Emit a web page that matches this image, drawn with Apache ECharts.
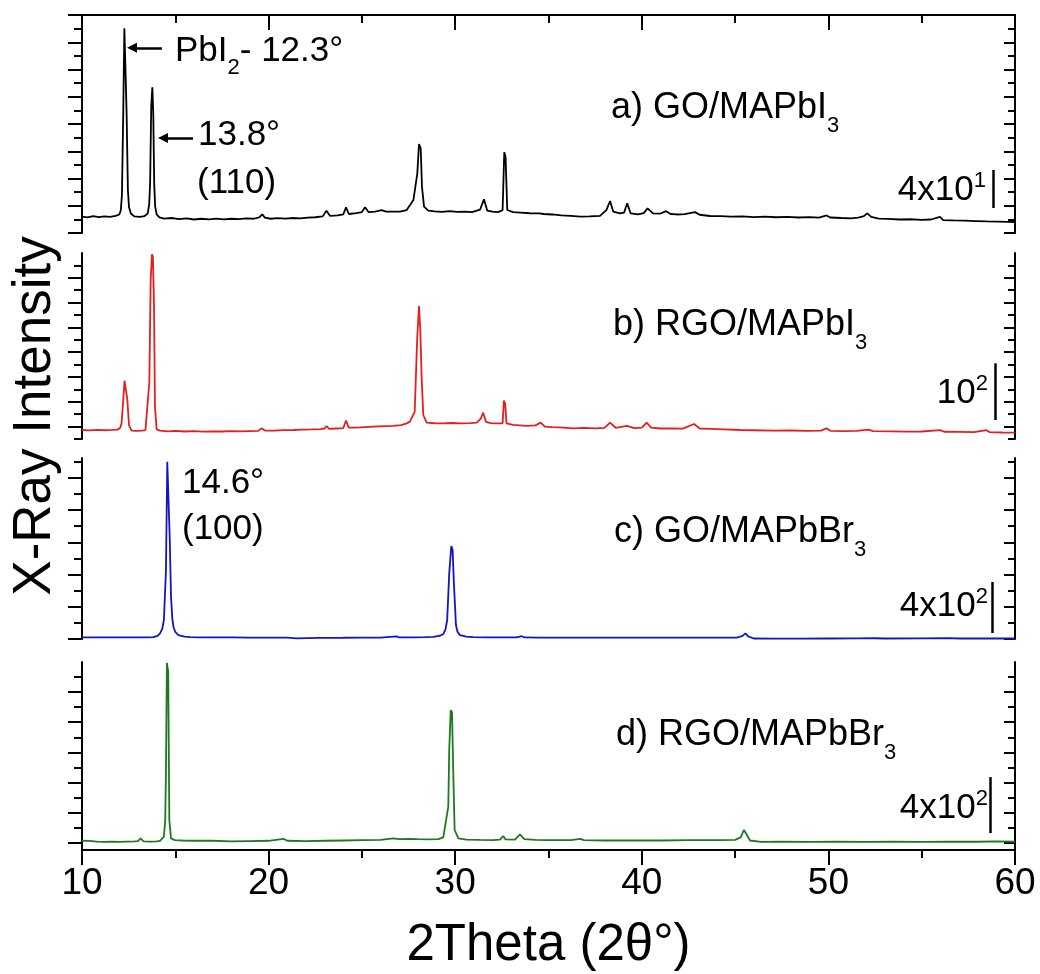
<!DOCTYPE html>
<html>
<head>
<meta charset="utf-8">
<script src="https://cdn.jsdelivr.net/npm/echarts@6/dist/echarts.min.js"></script>
<style>
  html, body { margin: 0; padding: 0; background: #fff; }
  #chart { width: 1040px; height: 974px; }
</style>
</head>
<body>
<div id="chart"></div>
<script>
// XRD patterns, 2θ (degrees) vs. counts, one stacked panel per film
const patternGO_MAPbI3 = [
  [10.0, 17.2], [10.3, 16.5], [10.6, 17.8], [10.9, 16.8], [11.2, 17.5], [11.5, 16.9], [11.8, 18.0],
  [12.0, 19.5], [12.08, 24], [12.14, 40], [12.21, 126], [12.27, 215.5], [12.31, 214], [12.34, 165], [12.39, 126],
  [12.46, 45], [12.52, 27], [12.62, 20.5], [12.8, 17.5], [13.1, 17.0], [13.35, 17.8], [13.52, 20.5], [13.6, 30], [13.65, 52],
  [13.71, 133], [13.77, 153.4], [13.82, 125], [13.87, 52], [13.92, 28], [14.0, 19.5], [14.15, 16.5], [14.4, 15.2],
  [14.8, 15.8], [15.2, 14.6], [15.6, 15.3], [16.0, 14.2], [16.4, 15.0], [16.8, 14.4], [17.2, 15.1],
  [17.6, 14.3], [18.0, 15.0], [18.4, 14.6], [18.8, 15.4], [19.2, 15.0], [19.5, 16.5], [19.66, 19.7],
  [19.8, 16.2], [20.1, 15.0], [20.5, 15.6], [20.9, 15.1], [21.3, 15.8], [21.7, 15.4], [22.1, 16.2],
  [22.5, 16.6], [22.9, 17.5], [23.1, 23.5], [23.3, 18.0], [23.7, 18.6], [24.0, 19.5], [24.15, 27],
  [24.3, 20], [24.7, 21], [25.0, 22], [25.17, 27], [25.35, 22], [25.7, 22.5], [26.06, 24], [26.3, 22.4],
  [26.67, 22.4], [27.04, 22.4], [27.4, 24.2], [27.76, 34.7], [27.97, 62.8], [28.06, 93.7], [28.15, 89.5],
  [28.22, 48.7], [28.33, 27.7], [28.56, 23.5], [28.9, 22.8], [29.3, 22.3], [29.7, 23.0], [30.1, 22.2],
  [30.5, 22.6], [30.9, 22.0], [31.33, 24.5], [31.54, 35.5], [31.72, 23.5], [32.0, 22.5], [32.3, 22.0],
  [32.54, 24], [32.63, 85], [32.70, 80], [32.79, 24.2], [33.1, 22], [33.5, 21.5], [34.0, 20.8],
  [34.5, 20.7], [34.6, 22.5], [34.75, 20], [35.2, 19.5], [35.7, 18.6], [36.2, 18.0], [36.7, 17.2],
  [37.2, 17.5], [37.76, 18], [38.1, 24], [38.3, 33.7], [38.47, 22.4], [38.83, 20.7], [39.05, 21.5],
  [39.22, 31.2], [39.4, 20.7], [39.8, 19.5], [40.1, 21], [40.31, 26], [40.6, 20.7], [41.0, 20.5],
  [41.3, 23], [41.55, 20], [41.87, 19.5], [42.3, 19.8], [42.85, 22], [43.1, 19.2], [43.65, 17.9],
  [44.2, 17.8], [44.8, 17.2], [45.4, 17.6], [46.0, 16.8], [46.6, 17.2], [47.2, 16.6], [47.8, 16.9],
  [48.4, 16.3], [49.0, 16.7], [49.5, 16.2], [49.9, 18.5], [50.1, 16.3], [50.7, 15.8], [51.2, 15.5],
  [51.6, 16.2], [51.9, 17.8], [52.08, 20.7], [52.3, 17.0], [52.7, 15.2], [53.2, 14.8], [53.8, 14.2],
  [54.4, 14.5], [55.0, 13.8], [55.5, 14.2], [55.98, 17], [56.15, 13.6], [56.7, 13.3], [57.3, 13.0],
  [57.9, 12.6], [58.5, 12.2], [59.1, 12.0], [59.6, 11.8], [60.0, 11.6]
];

const patternRGO_MAPbI3 = [
  [10.0, 15.9], [10.4, 15.2], [10.8, 16.2], [11.2, 15.4], [11.6, 16.0], [11.9, 16.5], [12.05, 20],
  [12.12, 27.6], [12.21, 68.8], [12.28, 102.8], [12.37, 101], [12.43, 68.8], [12.52, 24], [12.66, 14.7],
  [12.9, 14.2], [13.2, 14.8], [13.4, 15.5], [13.5, 19], [13.61, 101], [13.68, 280], [13.75, 325.7],
  [13.8, 321], [13.86, 236], [13.91, 57], [14.0, 17], [14.18, 14.7], [14.6, 13.5], [15.0, 14.2],
  [15.5, 13.2], [16.0, 13.8], [16.5, 13.0], [17.0, 13.6], [17.5, 13.2], [18.0, 13.9], [18.5, 13.4],
  [19.0, 14.0], [19.45, 14.5], [19.62, 18.8], [19.8, 14.8], [20.3, 14.6], [20.8, 15.5], [21.32, 15.9],
  [21.8, 16.4], [22.3, 16.9], [22.8, 17.5], [23.0, 18.5], [23.1, 22.9], [23.25, 18.0], [23.6, 18.5],
  [24.0, 19], [24.15, 32.3], [24.3, 20], [24.6, 20.2], [24.9, 20.6], [25.4, 21.5], [25.9, 22.2],
  [26.3, 22.8], [26.68, 23], [27.1, 24.5], [27.4, 27.5], [27.57, 30.6], [27.83, 48], [27.96, 174.6],
  [28.06, 234.6], [28.13, 192], [28.2, 110], [28.29, 42.3], [28.47, 28.8], [28.9, 27.8], [29.36, 27.6],
  [29.8, 28.2], [30.3, 27.4], [30.8, 28.0], [31.15, 28.8], [31.37, 36], [31.5, 46.4], [31.65, 30],
  [31.9, 28], [32.2, 27.4], [32.54, 27.6], [32.61, 67.6], [32.68, 62], [32.75, 27.6], [33.1, 25],
  [33.8, 23], [34.3, 24], [34.58, 28.8], [34.8, 22], [35.2, 21], [35.6, 20.6], [36.33, 18.8],
  [36.9, 19.5], [37.5, 18.8], [38.0, 19.6], [38.3, 28.8], [38.6, 19.8], [39.2, 23], [39.6, 19],
  [40.0, 20], [40.26, 28.8], [40.5, 20], [41.0, 18.5], [41.6, 18.8], [42.2, 18.2], [42.8, 26.4],
  [43.1, 18.5], [43.7, 17.8], [44.4, 17.0], [45.26, 15.9], [46.0, 15.4], [47.05, 14.6], [48.0, 15.0],
  [48.9, 14.4], [49.6, 14.8], [49.9, 18.8], [50.1, 14.4], [50.8, 14.0], [51.5, 14.2], [52.14, 16.5],
  [52.4, 13.8], [53.3, 13.5], [54.2, 12.9], [55.0, 13.2], [55.98, 15.6], [56.2, 12.8], [57.0, 12.5],
  [57.8, 12.2], [58.48, 15.5], [58.65, 12], [59.3, 11.5], [60.0, 11.2]
];

const patternGO_MAPbBr3 = [
  [10.0, 13], [10.5, 12], [11.0, 13.5], [11.5, 12.5], [12.0, 13.2], [12.5, 12.2], [13.0, 13], [13.1, 22],
  [13.2, 12.5], [13.6, 13.5], [13.82, 15], [14.05, 24], [14.18, 44], [14.3, 80], [14.39, 149], [14.5, 541], [14.57, 1391],
  [14.64, 1380], [14.7, 802], [14.77, 332], [14.84, 160], [14.9, 96.5], [15.0, 55], [15.16, 31], [15.5, 18], [15.79, 14],
  [16.3, 12.5], [17.0, 13], [18.0, 12.5], [19.0, 11.5], [20.0, 11], [21.0, 10.5], [21.5, 5], [21.6, 10],
  [22.7, 8.5], [22.8, 3], [23.0, 9.5], [24.0, 10], [25.0, 11], [26.0, 11.5], [26.86, 20], [27.0, 12],
  [27.8, 13], [28.4, 14], [28.83, 16], [29.2, 26], [29.36, 39], [29.48, 75], [29.57, 149], [29.68, 515], [29.79, 729],
  [29.86, 700], [29.93, 437], [30.04, 110], [30.12, 58], [30.25, 31], [30.6, 18], [30.97, 14], [31.6, 13],
  [32.4, 12.5], [33.3, 12.8], [33.56, 22], [33.7, 12], [34.5, 11.5], [35.6, 11], [36.8, 10.5],
  [38.0, 10.2], [39.5, 10.6], [41.0, 10.2], [42.5, 10.8], [44.0, 10.5], [45.1, 11.5], [45.4, 25],
  [45.55, 44], [45.7, 20], [46.0, 4], [47.0, 3], [48.5, 3.5], [50.0, 4], [51.5, 4.5], [52.5, 6],
  [53.0, 4], [55.0, 4.5], [56.5, 7], [57.0, 4], [58.5, 4], [60.0, 4]
];

const patternRGO_MAPbBr3 = [
  [10.0, 66], [10.4, 65], [10.8, 60], [11.2, 58], [11.6, 60], [12.0, 58], [12.4, 60], [12.8, 62],
  [13.0, 64], [13.14, 83], [13.3, 62], [13.7, 60], [14.0, 62], [14.18, 66], [14.39, 95], [14.46, 214],
  [14.5, 559], [14.55, 1338], [14.62, 1274], [14.68, 214], [14.77, 83], [14.98, 71], [15.4, 68],
  [16.0, 66], [17.0, 66], [18.0, 62], [19.0, 64], [20.0, 66], [20.8, 80], [21.0, 66], [22.0, 64],
  [23.0, 66], [24.0, 68], [25.0, 70], [26.0, 72], [26.68, 83], [27.0, 78], [27.5, 80], [28.0, 78],
  [28.6, 76], [29.1, 78], [29.36, 90], [29.63, 310], [29.68, 714], [29.76, 1000], [29.83, 985],
  [29.9, 536], [29.97, 143], [30.17, 83], [30.6, 74], [31.3, 72], [32.04, 71], [32.4, 74], [32.57, 100],
  [32.7, 76], [33.2, 74], [33.47, 112], [33.7, 78], [34.3, 72], [35.0, 70], [35.6, 71], [36.2, 70],
  [36.7, 80], [36.9, 70], [38.0, 68], [39.5, 69], [41.0, 68], [42.5, 70], [44.0, 70], [45.0, 72],
  [45.3, 90], [45.47, 143], [45.58, 120], [45.8, 68], [46.4, 58], [47.5, 59], [49.0, 58], [50.5, 60],
  [52.0, 58], [53.5, 59], [55.0, 58], [56.5, 60], [58.0, 59], [59.0, 61], [60.0, 59]
];

const patterns = [patternGO_MAPbI3, patternRGO_MAPbI3, patternGO_MAPbBr3, patternRGO_MAPbBr3];
const sampleLabels = [
  'a) GO/MAPbI{sub|3}',
  'b) RGO/MAPbI{sub|3}',
  'c) GO/MAPbBr{sub|3}',
  'd) RGO/MAPbBr{sub|3}'
];
const lineColors = ['#000000', '#e3201f', '#1414c4', '#1f7a1f'];

// intensity axes (counts) of each panel and their tick marks
const yMax = [229.5, 328, 1420, 1344];
const yTickStart = [0, 0, 0, 52];
const yTickStep = [14.34, 21.87, 126.4, 107.7];
const yTickCount = [16, 15, 11, 12];
const yTickBottomMajor = [true, false, true, true];

// intensity scale bars (counts) and their labels
const scaleBarCounts = [40, 100, 400, 400];
const scaleBarLabels = ['4x10{sup|1}', '10{sup|2}', '4x10{sup|2}', '4x10{sup|2}'];

// x axis
const xMin = 10, xMax = 60, xMajor = 10;
const xTitle = '2Theta (2\u03B8\u00B0)';
const yTitle = 'X-Ray Intensity';

// peak annotations
const peakNotes = {
  pbi2: 'PbI{sub|2}- 12.3\u00B0',
  p110a: '13.8\u00B0',
  p110b: '(110)',
  p100a: '14.6\u00B0',
  p100b: '(100)'
};

const FONT = '"Liberation Sans", Arial, Helvetica, sans-serif';

function tickSet(i) {
  const major = [], minor = [];
  for (let k = 0; k <= yTickCount[i]; k++) {
    const v = +(yTickStart[i] + k * yTickStep[i]).toFixed(3);
    if ((k % 2 === 0) === yTickBottomMajor[i]) major.push(v); else minor.push(v);
  }
  return { major, minor };
}

// panel layout (pixels)
const gridLeft = 82, gridRight = 25;
const panelTop = [15, 253, 458, 662];
const panelHeight = [218, 186, 181, 188];
// scale bar placement in data units: [x, lower end]
const barPlace = [[58.82, 26.3], [58.93, 33.5], [58.77, 47], [58.66, 121]];

const grids = [], xAxes = [], yAxes = [], series = [];

for (let i = 0; i < 4; i++) {
  grids.push({ left: gridLeft, right: gridRight, top: panelTop[i], height: panelHeight[i], containLabel: false, outerBoundsMode: 'none' });

  const isTop = i === 0, isBottom = i === 3;
  xAxes.push({
    gridIndex: i, type: 'value', min: xMin, max: xMax, interval: xMajor,
    show: isTop || isBottom,
    position: isTop ? 'top' : 'bottom',
    axisLine: { show: true, onZero: false, lineStyle: { color: '#000', width: 2 } },
    axisTick: { show: true, inside: isTop, length: 15, lineStyle: { color: '#000', width: 2 } },
    minorTick: { show: true, splitNumber: 2, length: 8, lineStyle: { color: '#000', width: 2 } },
    axisLabel: {
      show: isBottom, color: '#000', fontFamily: FONT, fontSize: 37, margin: 15
    },
    splitLine: { show: false }, minorSplitLine: { show: false },
    name: isBottom ? xTitle : '',
    nameLocation: 'middle', nameGap: 70,
    nameTextStyle: { color: '#000', fontFamily: FONT, fontSize: 51 }
  });

  const t = tickSet(i);
  const base = {
    gridIndex: i, type: 'value', min: 0, max: yMax[i],
    axisLabel: { show: false }, splitLine: { show: false }
  };
  const tickStyle = { color: '#000', width: 2 };
  // left: major + minor, pointing outward
  yAxes.push(Object.assign({}, base, {
    position: 'left',
    axisLine: { show: true, onZero: false, lineStyle: { color: '#000', width: 2 } },
    axisTick: { show: true, inside: false, length: 14, customValues: t.major, lineStyle: tickStyle }
  }));
  yAxes.push(Object.assign({}, base, {
    position: 'left',
    axisLine: { show: false, onZero: false },
    axisTick: { show: true, inside: false, length: 8, customValues: t.minor, lineStyle: tickStyle }
  }));
  // right: major + minor, pointing into the plot
  yAxes.push(Object.assign({}, base, {
    position: 'right',
    axisLine: { show: true, onZero: false, lineStyle: { color: '#000', width: 2 } },
    axisTick: { show: true, inside: true, length: 11, customValues: t.major, lineStyle: tickStyle }
  }));
  yAxes.push(Object.assign({}, base, {
    position: 'right',
    axisLine: { show: false, onZero: false },
    axisTick: { show: true, inside: true, length: 7, customValues: t.minor, lineStyle: tickStyle }
  }));

  const markData = [[
    { coord: [barPlace[i][0], barPlace[i][1]], symbol: 'none' },
    { coord: [barPlace[i][0], barPlace[i][1] + scaleBarCounts[i]], symbol: 'none' }
  ]];
  if (i === 0) {
    // arrows pointing at the 12.3° and 13.8° reflections
    markData.push([
      { coord: [14.28, 195], symbol: 'none' },
      { coord: [12.68, 195], symbol: 'triangle', symbolSize: 10 }
    ]);
    markData.push([
      { coord: [15.95, 100], symbol: 'none' },
      { coord: [14.34, 100], symbol: 'triangle', symbolSize: 10 }
    ]);
  }

  series.push({
    type: 'line',
    xAxisIndex: i, yAxisIndex: i * 4,
    data: patterns[i],
    showSymbol: false, symbol: 'none', silent: true,
    lineStyle: { color: lineColors[i], width: 1.8 },
    itemStyle: { color: lineColors[i] },
    markLine: {
      silent: true, animation: false,
      label: { show: false },
      lineStyle: { color: '#000', width: 2.5, type: 'solid' },
      emphasis: { disabled: true },
      data: markData
    }
  });
}

const richScript = {
  sub: { fontFamily: FONT, fontSize: 22, lineHeight: 20, verticalAlign: 'bottom', fill: '#000' },
  sup: { fontFamily: FONT, fontSize: 22, lineHeight: 20, verticalAlign: 'top', fill: '#000' }
};

function label(x, y, text, opts) {
  return {
    type: 'text', x: x, y: y, silent: true, z: 10,
    style: Object.assign({
      text: text, fill: '#000', fontFamily: FONT, fontSize: 34,
      textAlign: 'left', textVerticalAlign: 'middle', rich: richScript
    }, opts || {})
  };
}

const labelPos = [[611, 108], [613, 325], [614, 532], [616, 735]];
const barLabelPos = [[986, 190], [988, 393], [988, 606], [988, 808]];

const graphics = [];
for (let i = 0; i < 4; i++) {
  graphics.push(label(labelPos[i][0], labelPos[i][1], sampleLabels[i], { fontSize: 36, lineHeight: 58 }));
  graphics.push(label(barLabelPos[i][0], barLabelPos[i][1], scaleBarLabels[i], { fontSize: 35, textAlign: 'right', lineHeight: 40 }));
}
graphics.push(label(175, 51, peakNotes.pbi2, { fontSize: 35, lineHeight: 56 }));
graphics.push(label(198, 135, peakNotes.p110a, { fontSize: 35 }));
graphics.push(label(197, 183, peakNotes.p110b, { fontSize: 35 }));
graphics.push(label(182, 483, peakNotes.p100a, { fontSize: 35 }));
graphics.push(label(182, 529, peakNotes.p100b, { fontSize: 35 }));
graphics.push({
  type: 'text', x: 35, y: 416, rotation: Math.PI / 2, silent: true,
  style: {
    text: yTitle, fill: '#000', fontFamily: FONT, fontSize: 53,
    textAlign: 'center', textVerticalAlign: 'middle'
  }
});

const chart = echarts.init(document.getElementById('chart'), null, { renderer: 'canvas' });
chart.setOption({
  backgroundColor: '#ffffff',
  animation: false,
  grid: grids,
  xAxis: xAxes,
  yAxis: yAxes,
  series: series,
  graphic: { elements: graphics }
});
</script>
</body>
</html>
